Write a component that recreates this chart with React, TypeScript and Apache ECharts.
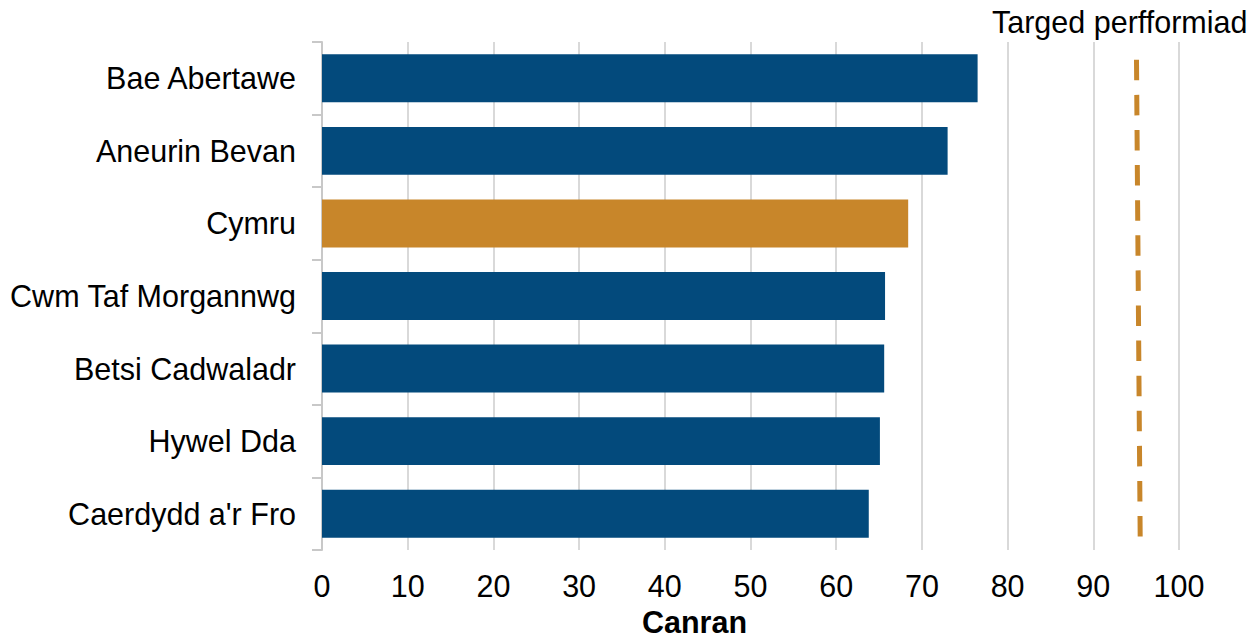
import React, { useEffect, useRef } from "react";
import * as echarts from "echarts";

const categories = [
  "Bae Abertawe",
  "Aneurin Bevan",
  "Cymru",
  "Cwm Taf Morgannwg",
  "Betsi Cadwaladr",
  "Hywel Dda",
  "Caerdydd a'r Fro",
];
const values = [76.5, 73.0, 68.4, 65.7, 65.6, 65.1, 63.8];
const highlight = "Cymru";
const xTicks = [0, 10, 20, 30, 40, 50, 60, 70, 80, 90, 100];
// target performance line: [percent, relative height 0..1], drawn top to bottom
const targetLine = [
  [95.04, 0.965],
  [95.47, 0.026],
];
const targetLabel = "Targed perfformiad";
const xAxisTitle = "Canran";

const BLUE = "#034A7C";
const ORANGE = "#C8862A";
const FONT = "'Liberation Sans', Arial, sans-serif";
const FS = 30.5;

export default function App() {
  const ref = useRef<HTMLDivElement>(null);
  useEffect(() => {
    document.body.style.margin = "0";
    if (!ref.current) return;
    const chart = echarts.init(ref.current, undefined, { renderer: "svg" });
    chart.setOption({
      animation: false,
      textStyle: { fontFamily: FONT },
      grid: { left: 322, right: 78, top: 42, bottom: 88, containLabel: false },
      xAxis: {
        type: "value",
        min: xTicks[0],
        max: xTicks[xTicks.length - 1],
        interval: 10,
        axisLine: { show: false },
        axisTick: { show: false },
        axisLabel: { fontSize: FS, color: "#000", margin: 20, fontFamily: FONT },
        splitLine: { show: true, lineStyle: { color: "#d9d9d9", width: 2 } },
      },
      yAxis: [
        {
          type: "category",
          data: categories,
          inverse: true,
          axisLine: { show: true, lineStyle: { color: "#c8c8c8", width: 2 } },
          axisTick: { show: true, length: 10, lineStyle: { color: "#c8c8c8", width: 2 } },
          axisLabel: { fontSize: FS, color: "#000", margin: 26, fontFamily: FONT },
          splitLine: { show: false },
        },
        {
          type: "value",
          min: 0,
          max: 1,
          show: false,
        },
      ],
      series: [
        {
          type: "bar",
          yAxisIndex: 0,
          barWidth: "66%",
          data: categories.map((c, i) => ({
            value: values[i],
            itemStyle: { color: c === highlight ? ORANGE : BLUE },
          })),
          z: 2,
        },
        {
          type: "line",
          yAxisIndex: 1,
          data: targetLine,
          symbol: "none",
          lineStyle: { color: ORANGE, width: 5, type: [20.5, 14.6] },
          z: 3,
        },
      ],
      graphic: [
        {
          type: "text",
          left: 992,
          top: 6,
          style: { text: targetLabel, font: `${FS}px ${FONT}`, fill: "#000" },
        },
        {
          type: "text",
          x: 694.5,
          y: 622,
          style: {
            text: xAxisTitle,
            font: `bold ${FS}px ${FONT}`,
            lineHeight: 26,
            fill: "#000",
            textAlign: "center",
            textVerticalAlign: "middle",
          },
        },
      ],
    });
    return () => chart.dispose();
  }, []);
  return <div ref={ref} style={{ width: 1257, height: 638 }} />;
}
